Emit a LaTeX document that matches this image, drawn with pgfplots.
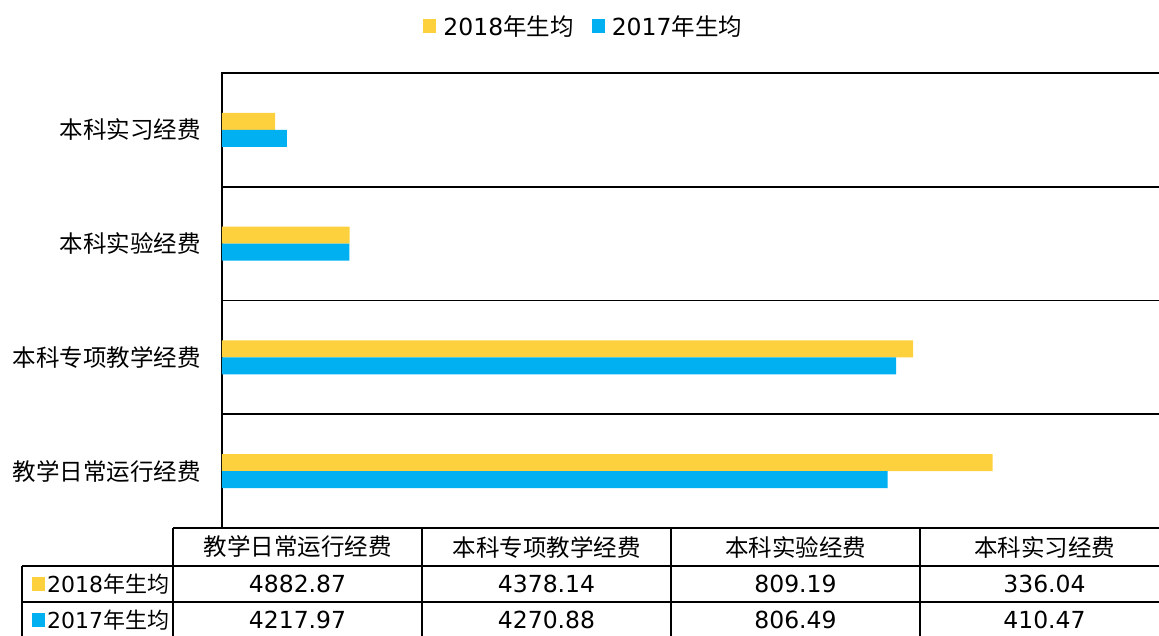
\documentclass[border=0pt]{standalone}
\usepackage{pgfplots}
\pgfplotsset{compat=1.18}
\usepackage{fontspec}
\setmainfont{DejaVu Sans}
\newfontfamily\cjk{Noto Sans CJK SC}
\definecolor{cyel}{HTML}{FDD13D}
\definecolor{cblu}{HTML}{00B0F0}
\newcommand{\fs}{\fontsize{23.5}{27}\selectfont}
\begin{document}
\begin{tikzpicture}[x=1pt,y=1pt]
\useasboundingbox (0,0) rectangle (1159,635);
\begin{axis}[
  at={(222pt,107pt)}, anchor=south west,
  scale only axis, width=947pt, height=455pt,
  xmin=0, xmax=6000, ymin=-0.5, ymax=3.5,
  xtick=\empty,
  ytick={0,1,2,3},
  yticklabels={{教学日常运行经费},{本科专项教学经费},{本科实验经费},{本科实习经费}},
  major tick length=0pt,
  yticklabel style={font=\fs\cjk, text=black, inner sep=0pt, xshift=-21pt},
  extra y ticks={0.5,1.5,2.5},
  extra y tick labels={},
  extra y tick style={grid=major},
  major grid style={black, line width=1.6pt},
  axis line style={black, line width=1.6pt},
  xbar, bar width=17pt,
  legend style={at={(0.381,1.103)}, anchor=center, draw=none, fill=none,
    legend columns=2, font=\fs, inner sep=0pt,
    nodes={inner sep=0pt},
    /tikz/every odd column/.append style={column sep=7pt},
    /tikz/every even column/.append style={column sep=18pt}},
]
\addplot[fill=cyel, draw=none, bar shift=8.5pt,
  legend image code/.code={\fill[cyel] (0pt,-7pt) rectangle (13pt,7pt);}]
  coordinates {(4882.87,0) (4378.14,1) (809.19,2) (336.04,3)};
\addlegendentry{2018{\cjk 年生均}}
\addplot[fill=cblu, draw=none, bar shift=-8.5pt,
  legend image code/.code={\fill[cblu] (0pt,-7pt) rectangle (13pt,7pt);}]
  coordinates {(4217.97,0) (4270.88,1) (806.49,2) (410.47,3)};
\addlegendentry{2017{\cjk 年生均}}
\end{axis}
% data table
\begin{scope}[line width=1.6pt]
\draw (173,107) -- (1172,107);
\draw (22,69) -- (1172,69);
\draw (22,33) -- (1172,33);
\draw (22,-3) -- (1172,-3);
\draw (173,107) -- (173,-3);
\draw (22,69) -- (22,-3);
\foreach \x in {422,671,920} \draw (\x,107) -- (\x,-3);
\end{scope}
\begin{scope}[every node/.style={font=\fs, inner sep=0pt, text=black}]
\node at (297.5,88) {\cjk 教学日常运行经费};
\node at (546.5,88) {\cjk 本科专项教学经费};
\node at (795.5,88) {\cjk 本科实验经费};
\node at (1044.5,88) {\cjk 本科实习经费};
\node at (297.5,51) {4882.87};
\node at (546.5,51) {4378.14};
\node at (795.5,51) {809.19};
\node at (1044.5,51) {336.04};
\node at (297.5,15) {4217.97};
\node at (546.5,15) {4270.88};
\node at (795.5,15) {806.49};
\node at (1044.5,15) {410.47};
\end{scope}
\fill[cyel] (32,44) rectangle (45,58);
\fill[cblu] (32,8) rectangle (45,22);
\node[anchor=west, inner sep=0pt, font=\fontsize{22}{26}\selectfont] at (47,51) {2018{\cjk 年生均}};
\node[anchor=west, inner sep=0pt, font=\fontsize{22}{26}\selectfont] at (47,15) {2017{\cjk 年生均}};
\end{tikzpicture}
\end{document}
